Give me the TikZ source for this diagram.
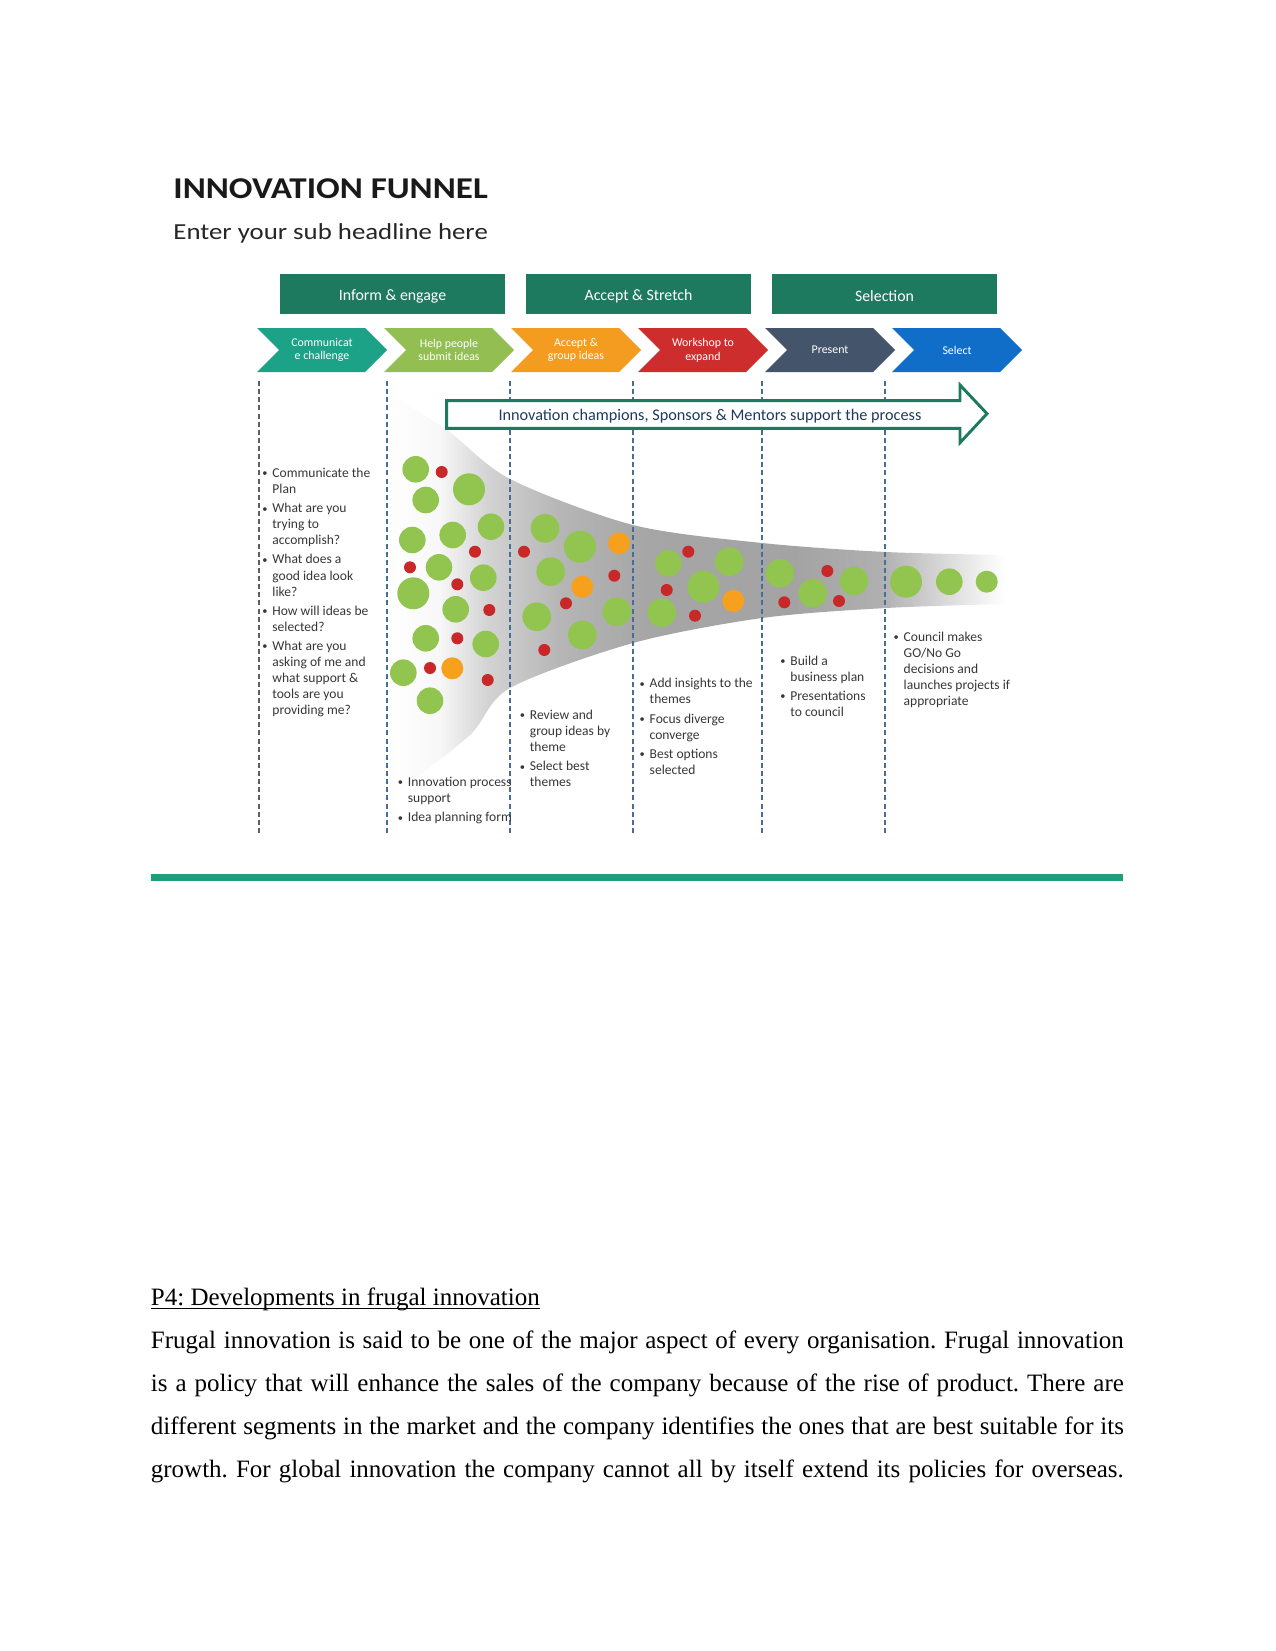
\documentclass[tikz,border=0pt]{standalone}
\usepackage{fontspec}
\setmainfont{Liberation Serif}
\newfontfamily\calib{Carlito}
\definecolor{headgreen}{RGB}{30,122,94}
\definecolor{cteal}{RGB}{28,162,135}
\definecolor{clgreen}{RGB}{146,190,82}
\definecolor{corange}{RGB}{244,156,32}
\definecolor{cred}{RGB}{205,45,45}
\definecolor{cslate}{RGB}{68,84,106}
\definecolor{cblue}{RGB}{16,110,200}
\definecolor{dotgreen}{RGB}{146,196,80}
\definecolor{dotred}{RGB}{200,40,40}
\definecolor{dotorange}{RGB}{247,160,30}
\definecolor{dashgray}{RGB}{95,95,95}
\definecolor{dashblue}{RGB}{70,110,150}
\definecolor{arrowtext}{RGB}{31,58,96}
\definecolor{bultext}{RGB}{55,55,55}
\definecolor{rulegreen}{RGB}{31,158,124}
\pgfdeclarehorizontalshading{funnelshade}{100bp}{color(0bp)=(white); color(25bp)=(white); color(29bp)=(gray!6); color(33bp)=(gray!35); color(39bp)=(gray!58); color(46bp)=(gray!70); color(58bp)=(gray!72); color(65bp)=(gray!62); color(70bp)=(gray!30); color(75bp)=(white); color(100bp)=(white)}
\newcommand\itm{\makebox[4.8pt][l]{\raisebox{0.3pt}{\fontsize{5}{5}\selectfont •}}}
\newcommand\blist[1]{\begin{tabular}[t]{@{}l@{}l@{}}#1\end{tabular}}
\newcommand\lowtxt[1]{\raisebox{-1pt}[\height][\depth]{#1}}
\newcommand\wordul[1]{\setbox0\hbox{#1}\rlap{\rule[-1.7pt]{\wd0}{0.5pt}}\box0}
\tikzset{
  headbox/.style={fill=headgreen, text=white, font=\calib\fontsize{7.6}{9}\selectfont, inner sep=0, minimum width=225*0.48pt, minimum height=40*0.48pt},
  chevtext/.style={text=white, font=\calib\fontsize{5.7}{6.6}\selectfont, align=center, inner sep=0},
  dashline/.style={dashed, dash pattern=on 2.4pt off 1.5pt, line width=0.6pt, draw=dashblue},
  bullets/.style={anchor=base west, inner sep=0, text=bultext, font=\calib\fontsize{6.5}{7.7}\selectfont},
  bodyline/.style={anchor=base west, inner sep=0, font=\fontsize{12}{14}\selectfont\frenchspacing},
  gdot/.style={fill=dotgreen},
  rdot/.style={fill=dotred},
  odot/.style={fill=dotorange}
}
\begin{document}
\begin{tikzpicture}[x=0.48pt, y=-0.48pt]
\useasboundingbox (0,0) rectangle (1275,1651);
\fill[white] (0,0) rectangle (1275,1651);

% title
\node[anchor=base west, inner sep=0, text=black!90, font=\calib\bfseries\fontsize{14.5}{17}\selectfont] (title) at (173,198.3) {\scalebox{1.16}[1]{INNOVATION FUNNEL}};
\node[anchor=base west, inner sep=0, text=black!85, font=\calib\fontsize{11}{13}\selectfont] (subtitle) at (173,240) {\scalebox{1.17}[1]{Enter your sub headline here}};

% header boxes
\node[headbox] (h1) at (392.5,294) {\lowtxt{Inform \& engage}};
\node[headbox] (h2) at (638.5,294) {\lowtxt{Accept \& Stretch}};
\node[headbox] (h3) at (884.5,294) {\lowtxt{Selection}};

% chevrons
\foreach \L/\c in {257/cteal, 384/clgreen, 511/corange, 638/cred, 765/cslate, 892/cblue}{
  \fill[\c] (\L,328) -- ({\L+108},328) -- ({\L+130},350) -- ({\L+108},372) -- (\L,372) -- ({\L+22},350) -- cycle;
}
\node[chevtext] (c1) at (322,350) {Communicat\\e challenge};
\node[chevtext] (c2) at (449,350) {Help people\\submit ideas};
\node[chevtext] (c3) at (576,350) {Accept \&\\group ideas};
\node[chevtext] (c4) at (703,350) {Workshop to\\expand};
\node[chevtext] (c5) at (830,350) {Present};
\node[chevtext] (c6) at (957,350) {Select};

% funnel
\shade[shading=funnelshade] plot[smooth] coordinates {(390,395) (447,430) (510,479) (633,525) (762,543) (886,552) (1005,555)}
  -- plot[smooth] coordinates {(1005,604) (886,608) (762,618) (633,643) (510,688) (470,735) (400,790)} -- cycle;

% dashed separators
\draw[dashline, draw=dashgray] (259,381) -- (259,834);
\foreach \x in {387,510,633,762,885}{
  \draw[dashline] (\x,381) -- (\x,834);
}

% dots
\foreach \p in {(415.7,469.3),(425.7,500),(491,526.7),(452.7,535),(412.3,540),(439,567.3),(483.3,577.7),(455.7,609.3),(425.7,638.3),(485.7,644),(403.3,672.7),(430,700.7),(668.3,563.3),(949.3,581.7)}
  \fill[gdot] \p circle[radius=13.3];
\foreach \p in {(469,489.3),(413.3,593.3),(580,546.7),(703.3,586.7),(906,581.7)}
  \fill[gdot] \p circle[radius=16];
\foreach \p in {(545,528.3),(550.7,571.7),(536.7,616.7),(582.3,635),(616.7,611.7),(729.3,561.7),(661.7,612.7),(780,573.3),(812.7,593.3),(854,581)}
  \fill[gdot] \p circle[radius=14.3];
\fill[gdot] (986.7,581.7) circle[radius=11];
\foreach \p in {(619,543.3),(582.3,586.7),(733.3,601),(452.3,668.3)}
  \fill[odot] \p circle[radius=11];
\foreach \p in {(441.7,472),(475,551.7),(410,567.3),(457.3,584.3),(489.3,610),(457.3,638.3),(430,668),(487.7,680),(524,551.7),(614.3,575.7),(566,603.3),(544.3,650),(688.3,551.7),(666.7,590),(695,615.7),(827.3,571),(784.3,602.3),(839,601)}
  \fill[rdot] \p circle[radius=6];

% support arrow
\draw[headgreen, line width=1.4pt, fill=white, line join=miter] (446.7,400.7) -- (960,400.7) -- (960,385) -- (987,413.7) -- (960,442.7) -- (960,428.3) -- (446.7,428.3) -- cycle;
\node[inner sep=0, text=arrowtext, font=\calib\fontsize{7.8}{9}\selectfont] (support) at (710,416) {Innovation champions, Sponsors \& Mentors support the process};

% bullet columns
\node[bullets] (b1) at (262,477.5) {\blist{\itm & Communicate the\\ & Plan\\[1.5pt]
 \itm & What are you\\ & trying to\\ & accomplish?\\[1.5pt]
 \itm & What does a\\ & good idea look\\ & like?\\[1.5pt]
 \itm & How will ideas be\\ & selected?\\[1.5pt]
 \itm & What are you\\ & asking of me and\\ & what support \&\\ & tools are you\\ & providing me?}};
\node[bullets] (b2) at (397.5,786.5) {\blist{\itm & Innovation process\\ & support\\[1.5pt]
 \itm & Idea planning form}};
\node[bullets] (b3) at (519.5,719.5) {\blist{\itm & Review and\\ & group ideas by\\ & theme\\[1.5pt]
 \itm & Select best\\ & themes}};
\node[bullets] (b4) at (639.3,687.8) {\blist{\itm & Add insights to the\\ & themes\\[1.5pt]
 \itm & Focus diverge\\ & converge\\[1.5pt]
 \itm & Best options\\ & selected}};
\node[bullets] (b5) at (780,665.2) {\blist{\itm & Build a\\ & business plan\\[1.5pt]
 \itm & Presentations\\ & to council}};
\node[bullets] (b6) at (893.3,641.2) {\blist{\itm & Council makes\\ & GO/No Go\\ & decisions and\\ & launches projects if\\ & appropriate}};

% rule
\fill[rulegreen] (150.5,873.5) rectangle (1123.3,880.5);

% body text
\node[bodyline] (head) at (150.5,1305.5) {\wordul{P4: Developments in frugal innovation}};
\node[bodyline] (l1) at (150.5,1348.6) {\hbox to 467pt{Frugal innovation is said to be one of the major aspect of every organisation. Frugal innovation}};
\node[bodyline] (l2) at (150.5,1391.7) {\hbox to 467pt{is a policy that will enhance the sales of the company because of the rise of product. There are}};
\node[bodyline] (l3) at (150.5,1434.8) {\hbox to 467pt{different segments in the market and the company identifies the ones that are best suitable for its}};
\node[bodyline] (l4) at (150.5,1477.9) {\hbox to 467pt{growth. For global innovation the company cannot all by itself extend its policies for overseas.}};
\end{tikzpicture}
\end{document}
